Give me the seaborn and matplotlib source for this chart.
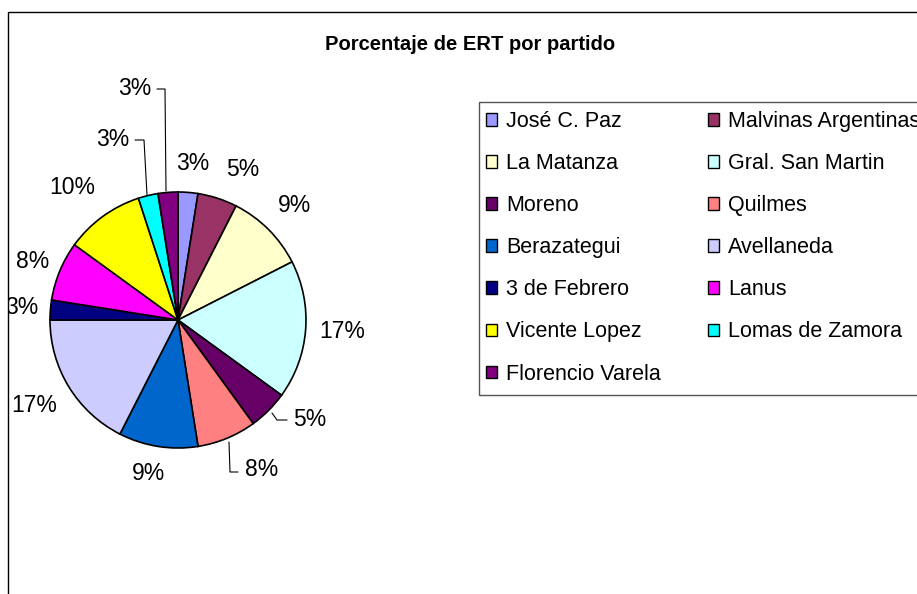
import matplotlib
matplotlib.use('Agg')
import matplotlib.pyplot as plt
from matplotlib.patches import Patch, Rectangle
import seaborn as sns

# Datos
partidos = ['José C. Paz', 'Malvinas Argentinas', 'La Matanza', 'Gral. San Martin',
            'Moreno', 'Quilmes', 'Berazategui', 'Avellaneda', '3 de Febrero',
            'Lanus', 'Vicente Lopez', 'Lomas de Zamora', 'Florencio Varela']
cantidad = [1, 2, 4, 7, 2, 3, 4, 7, 1, 3, 4, 1, 1]
etiquetas = ['3%', '5%', '9%', '17%', '5%', '8%', '9%', '17%', '3%', '8%', '10%', '3%', '3%']
colores = ['#9999FF', '#993366', '#FFFFCC', '#CCFFFF', '#660066', '#FF8080', '#0066CC',
           '#CCCCFF', '#000080', '#FF00FF', '#FFFF00', '#00FFFF', '#800080']

sns.set_theme(style='white')
plt.rcParams['font.family'] = ['Liberation Sans', 'DejaVu Sans']
plt.rcParams['text.color'] = 'black'

W, H = 917, 594
fig = plt.figure(figsize=(W / 100, H / 100), dpi=100)

# ejes en pixeles: centro de la torta (178, 320), radio 128 px
R = 128.0
CX, CY = 178.0, 320.0
L_, T_, R_, B_ = 8, 12, 470, 594
ax = fig.add_axes([L_ / W, 1 - B_ / H, (R_ - L_) / W, (B_ - T_) / H])
ax.pie(cantidad, colors=colores, startangle=90, counterclock=False, radius=1,
       wedgeprops=dict(edgecolor='black', linewidth=1.2))
ax.set_xlim((L_ - CX) / R, (R_ - CX) / R)
ax.set_ylim((CY - B_) / R, (CY - T_) / R)
ax.axis('off')


def px(x, y):
    return (x - CX) / R, (CY - y) / R


# posiciones de las etiquetas (pixeles)
pos_etiquetas = [(193, 164), (243, 170), (295, 205), (342, 332), (310, 420),
                 (262, 470), (149, 473), (34, 405), (22, 308), (33, 262),
                 (72, 188), (113, 139), (135, 88)]
for txt, (x, y) in zip(etiquetas, pos_etiquetas):
    ax.text(*px(x, y), txt, ha='center', va='center', fontsize=16.5, color='black',
            clip_on=True)

# lineas guia
guias = [
    [(157, 89), (165, 89), (166, 191)],
    [(135, 140), (144, 140), (147, 195)],
    [(272, 413), (277, 420), (287, 420)],
    [(229, 442), (230, 472), (238, 472)],
]
for g in guias:
    xs, ys = zip(*[px(x, y) for x, y in g])
    ax.plot(xs, ys, color='black', lw=0.8)

# titulo
fig.text(470 / W, 1 - 44 / H, 'Porcentaje de ERT por partido', ha='center', va='center',
         fontsize=14.5, fontweight='bold', color='black')

# leyenda (orden por filas)
orden = list(range(0, 13, 2)) + list(range(1, 13, 2))
handles = [Patch(facecolor=colores[i], edgecolor='black', linewidth=1.0) for i in orden]
labels = [partidos[i] for i in orden]
leg = fig.legend(handles, labels, ncol=2, loc='upper left',
                 bbox_to_anchor=(486 / W, 1 - 111 / H), frameon=False, fontsize=15.5,
                 handlelength=0.52, handleheight=0.52, handletextpad=0.42,
                 columnspacing=2.18, labelspacing=0.98, borderpad=0, borderaxespad=0)
for t in leg.get_texts():
    t.set_color('black')
fig.patches.append(Rectangle((479 / W, 1 - 395 / H), 0.6, 293 / H, transform=fig.transFigure,
                             fill=False, edgecolor='#555555', linewidth=1.0))

# borde del grafico
fig.patches.append(Rectangle((8 / W, -0.1), 1.2, 1.1 - 12 / H, transform=fig.transFigure,
                             fill=False, edgecolor='black', linewidth=1.0))

plt.savefig('out.png', dpi=100)
